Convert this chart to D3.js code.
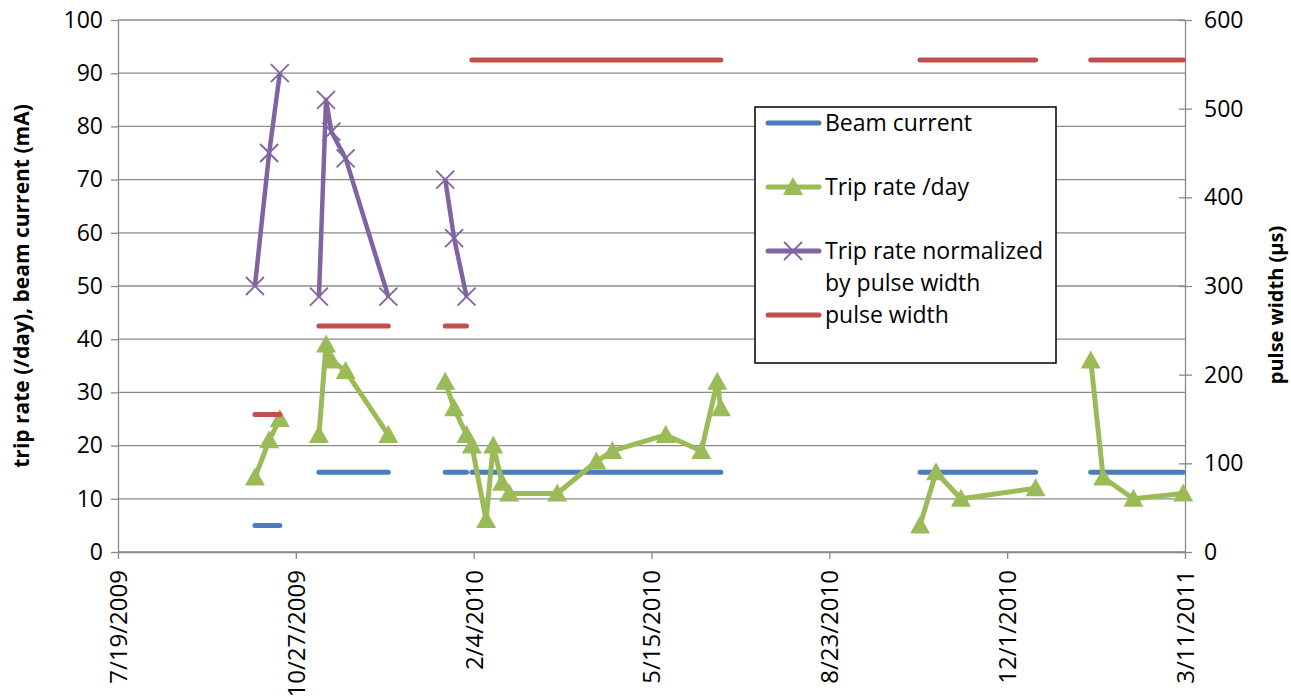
<!DOCTYPE html>
<html lang="en">

<head>
    <meta charset="utf-8">
    <script src="https://d3js.org/d3.v7.min.js"></script>
    <style>
        body {
            margin: 0;
            background: #fff;
            font-family: "Open Sans", sans-serif;
        }

        .grid line {
            stroke: #8a8a8a;
            stroke-width: 1.3;
        }

        .axis path,
        .axis line {
            stroke: #8a8a8a;
            stroke-width: 1.3;
        }

        .axis text {
            fill: #000;
            font-size: 23px;
            font-family: "Open Sans", sans-serif;
        }
    </style>
</head>

<body>
    <script>
        // axis ticks
        const xTickLabels = ["7/19/2009", "10/27/2009", "2/4/2010", "5/15/2010", "8/23/2010", "12/1/2010", "3/11/2011"];
        const leftTicks = [0, 10, 20, 30, 40, 50, 60, 70, 80, 90, 100];
        const rightTicks = [0, 100, 200, 300, 400, 500, 600];

        // beam current and pulse width stay constant over each run
        const runStart = ["10/4/2009", "11/9/2009", "1/19/2010", "2/3/2010", "10/13/2010", "1/17/2011"];
        const runEnd = ["10/18/2009", "12/18/2009", "1/31/2010", "6/23/2010", "12/17/2010", "3/10/2011"];
        const runBeam = [5, 15, 15, 15, 15, 15];
        const runPulse = [155, 255, 255, 555, 555, 555];

        // trip rate samples (null = break in the line)
        const tripDates = ["10/4/2009", "10/12/2009", "10/18/2009", null,
            "11/9/2009", "11/13/2009", "11/16/2009", "11/24/2009", "12/18/2009", null,
            "1/19/2010", "1/24/2010", "1/31/2010", "2/3/2010", "2/11/2010", "2/15/2010", "2/20/2010", "2/24/2010",
            "3/23/2010", "4/14/2010", "4/23/2010", "5/23/2010", "6/12/2010", "6/21/2010", "6/23/2010", null,
            "10/13/2010", "10/22/2010", "11/5/2010", "12/17/2010", null,
            "1/17/2011", "1/24/2011", "2/10/2011", "3/10/2011"];
        const tripRate = [14, 21, 25, null,
            22, 39, 36, 34, 22, null,
            32, 27, 22, 20, 6, 20, 13, 11,
            11, 17, 19, 22, 19, 32, 27, null,
            5, 15, 10, 12, null,
            36, 14, 10, 11];
        const tripNorm = [50, 75, 90, null,
            48, 85, 79, 74, 48, null,
            70, 59, 48, null, null, null, null, null,
            null, null, null, null, null, null, null, null,
            null, null, null, null, null,
            null, null, null, null];

        const seriesNames = ["Beam current", "Trip rate /day", "Trip rate normalized|by pulse width", "pulse width"];
        const colors = ["#4a7ebb", "#9bbb59", "#8064a2", "#c0504d"];

        const W = 1291, H = 698;
        const mLeft = 118, mRight = 1185, mTop = 20, mBottom = 552;

        const parse = d3.utcParse("%m/%d/%Y");
        const fmt = d => (d.getUTCMonth() + 1) + "/" + d.getUTCDate() + "/" + d.getUTCFullYear();

        const x = d3.scaleUtc()
            .domain([parse(xTickLabels[0]), parse(xTickLabels[xTickLabels.length - 1])])
            .range([mLeft, mRight]);
        const y = d3.scaleLinear().domain([0, 100]).range([mBottom, mTop]);
        const y2 = d3.scaleLinear().domain([0, 600]).range([mBottom, mTop]);

        const svg = d3.select("body").append("svg")
            .attr("width", W)
            .attr("height", H);

        // horizontal gridlines
        svg.append("g")
            .attr("class", "grid")
            .selectAll("line")
            .data(leftTicks)
            .join("line")
            .attr("x1", mLeft)
            .attr("x2", mRight)
            .attr("y1", d => y(d))
            .attr("y2", d => y(d));

        // axes
        svg.append("g")
            .attr("class", "axis")
            .attr("transform", "translate(" + mLeft + ",0)")
            .call(d3.axisLeft(y).tickValues(leftTicks).tickSize(7).tickPadding(8).tickSizeOuter(0));

        const ax2 = svg.append("g")
            .attr("class", "axis")
            .attr("transform", "translate(" + mRight + ",0)")
            .call(d3.axisRight(y2).tickValues(rightTicks).tickSize(7).tickPadding(12).tickSizeOuter(0));
        ax2.selectAll(".tick line").attr("x1", -6);

        const axX = svg.append("g")
            .attr("class", "axis")
            .attr("transform", "translate(0," + mBottom + ")")
            .call(d3.axisBottom(x).tickValues(xTickLabels.map(parse)).tickFormat(fmt).tickSize(7).tickSizeOuter(0));
        axX.selectAll("text")
            .attr("transform", "rotate(-90)")
            .attr("text-anchor", "end")
            .attr("x", -18)
            .attr("y", 0)
            .attr("dy", "0.35em")
            .style("font-size", "24px");

        // axis titles
        svg.append("text")
            .attr("transform", "translate(22," + (mTop + mBottom) / 2 + ") rotate(-90)")
            .attr("text-anchor", "middle")
            .attr("dy", "0.35em")
            .style("font-size", "21px")
            .style("font-weight", "bold")
            .text("trip rate (/day), beam current (mA)");

        svg.append("text")
            .attr("transform", "translate(1276,305) rotate(-90)")
            .attr("text-anchor", "middle")
            .attr("dy", "0.35em")
            .style("font-size", "20px")
            .style("font-weight", "bold")
            .text("pulse width (µs)");

        // run segments: beam current (left axis)
        svg.append("g")
            .selectAll("line")
            .data(runStart)
            .join("line")
            .attr("x1", (d, i) => x(parse(runStart[i])))
            .attr("x2", (d, i) => x(parse(runEnd[i])))
            .attr("y1", (d, i) => y(runBeam[i]))
            .attr("y2", (d, i) => y(runBeam[i]))
            .attr("stroke", colors[0])
            .attr("stroke-width", 5)
            .attr("stroke-linecap", "round");

        const pts = tripDates.map((d, i) => ({
            date: d ? parse(d) : null,
            rate: tripRate[i],
            norm: tripNorm[i]
        }));

        // trip rate /day
        const rateLine = d3.line()
            .defined(d => d.date && d.rate != null)
            .x(d => x(d.date))
            .y(d => y(d.rate));

        svg.append("path")
            .datum(pts)
            .attr("d", rateLine)
            .attr("fill", "none")
            .attr("stroke", colors[1])
            .attr("stroke-width", 5)
            .attr("stroke-linejoin", "round");

        const tri = "M0,-10L10,8L-10,8Z";
        svg.append("g")
            .selectAll("path")
            .data(pts.filter(d => d.date && d.rate != null))
            .join("path")
            .attr("d", tri)
            .attr("transform", d => "translate(" + x(d.date) + "," + y(d.rate) + ")")
            .attr("fill", colors[1]);

        // trip rate normalized by pulse width
        const normLine = d3.line()
            .defined(d => d.date && d.norm != null)
            .x(d => x(d.date))
            .y(d => y(d.norm));

        svg.append("path")
            .datum(pts)
            .attr("d", normLine)
            .attr("fill", "none")
            .attr("stroke", colors[2])
            .attr("stroke-width", 4.5)
            .attr("stroke-linejoin", "round");

        const cross = "M-9,-9L9,9M-9,9L9,-9";
        svg.append("g")
            .selectAll("path")
            .data(pts.filter(d => d.date && d.norm != null))
            .join("path")
            .attr("d", cross)
            .attr("transform", d => "translate(" + x(d.date) + "," + y(d.norm) + ")")
            .attr("stroke", colors[2])
            .attr("stroke-width", 1.8)
            .attr("fill", "none");

        // run segments: pulse width (right axis)
        svg.append("g")
            .selectAll("line")
            .data(runStart)
            .join("line")
            .attr("x1", (d, i) => x(parse(runStart[i])))
            .attr("x2", (d, i) => x(parse(runEnd[i])))
            .attr("y1", (d, i) => y2(runPulse[i]))
            .attr("y2", (d, i) => y2(runPulse[i]))
            .attr("stroke", colors[3])
            .attr("stroke-width", 5)
            .attr("stroke-linecap", "round");

        // legend
        const lg = svg.append("g");
        lg.append("rect")
            .attr("x", 755)
            .attr("y", 107)
            .attr("width", 301)
            .attr("height", 256)
            .attr("fill", "#fff")
            .attr("stroke", "#000")
            .attr("stroke-width", 1.5);

        const legY = [123, 187, 251, 315];
        seriesNames.forEach((name, i) => {
            lg.append("line")
                .attr("x1", 768)
                .attr("x2", 819)
                .attr("y1", legY[i])
                .attr("y2", legY[i])
                .attr("stroke", colors[i])
                .attr("stroke-width", 5)
                .attr("stroke-linecap", "round");
            if (i == 1) {
                lg.append("path").attr("d", tri)
                    .attr("transform", "translate(793," + legY[i] + ")")
                    .attr("fill", colors[i]);
            }
            if (i == 2) {
                lg.append("path").attr("d", cross)
                    .attr("transform", "translate(793," + legY[i] + ")")
                    .attr("stroke", colors[i])
                    .attr("stroke-width", 1.8);
            }
            name.split("|").forEach((t, j) => {
                lg.append("text")
                    .attr("x", 825)
                    .attr("y", legY[i] + j * 32)
                    .attr("dy", "0.35em")
                    .style("font-size", "23px")
                    .text(t);
            });
        });
    </script>
</body>

</html>
